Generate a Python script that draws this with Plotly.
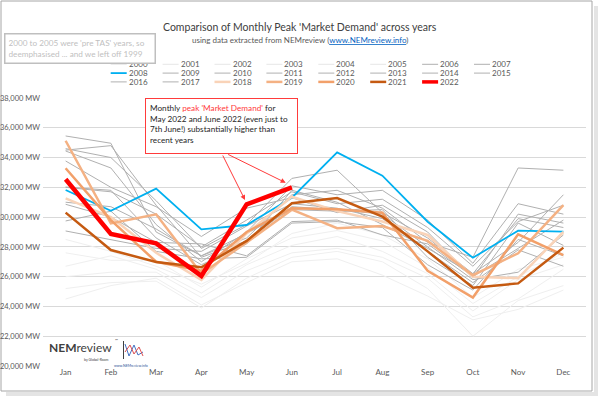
import plotly.graph_objects as go

months = ["Jan", "Feb", "Mar", "Apr", "May", "Jun", "Jul", "Aug", "Sep", "Oct", "Nov", "Dec"]
y_ticks = [20000, 22000, 24000, 26000, 28000, 30000, 32000, 34000, 36000, 38000]
y_tick_text = ["20,000 MW", "22,000 MW", "24,000 MW", "26,000 MW", "28,000 MW",
               "30,000 MW", "32,000 MW", "34,000 MW", "36,000 MW", "38,000 MW"]

y2000 = [24500, 25400, 25900, 24100, 25600, 27000, 27200, 26100, 24700, 23100, 23800, 25100]
y2001 = [25200, 25600, 25700, 23900, 25900, 27300, 27700, 27000, 25200, 22000, 24400, 25400]
y2002 = [26000, 26300, 26300, 24600, 26400, 27600, 27900, 27300, 25900, 23300, 24500, 26500]
y2003 = [26700, 27400, 26500, 24900, 26800, 28100, 28700, 27700, 26200, 23700, 25800, 26800]
y2004 = [27600, 27100, 27100, 25300, 27200, 28600, 29100, 28400, 26600, 24200, 26000, 27600]
y2005 = [28500, 27700, 26700, 25500, 26900, 28900, 29600, 28800, 27200, 24600, 26500, 27300]
y2006 = [35450, 34960, 29000, 27400, 28600, 31500, 31800, 30600, 28300, 27300, 33300, 33150]
y2007 = [34600, 34000, 31100, 27900, 29500, 32600, 33150, 30300, 28600, 26200, 28300, 31500]
y2008 = [31820, 30430, 31910, 29180, 29470, 31300, 34350, 32780, 29690, 27270, 29090, 29020]
y2009 = [34440, 33300, 29500, 27000, 29000, 32100, 31500, 31800, 29800, 26900, 30900, 30200]
y2010 = [33770, 32000, 30700, 28700, 30600, 31300, 30300, 30800, 29000, 25900, 30200, 29600]
y2011 = [32020, 31800, 28600, 26800, 28200, 31800, 31000, 29500, 27900, 26200, 29900, 29300]
y2012 = [31000, 30700, 29200, 27400, 28900, 30500, 30400, 30500, 27300, 25400, 29600, 28100]
y2013 = [30860, 30000, 28300, 28200, 27400, 29700, 29800, 28800, 28200, 26000, 27900, 29800]
y2014 = [29740, 30400, 27700, 27200, 27300, 29600, 29700, 29300, 26800, 25100, 28500, 27400]
y2015 = [29070, 28500, 27900, 27700, 29400, 30900, 30600, 29900, 27700, 25600, 27800, 26700]
y2016 = [32000, 31700, 30200, 28000, 29800, 31700, 30900, 31200, 29300, 26700, 29700, 30800]
y2017 = [34500, 34800, 30800, 27300, 28400, 30700, 30500, 30200, 28000, 25800, 26300, 28800]
y2018 = [31260, 30000, 27600, 25780, 28900, 31370, 30400, 29700, 28800, 26000, 25900, 29000]
y2019 = [35130, 29580, 30190, 26200, 28300, 30500, 29250, 29400, 28400, 26100, 27570, 30810]
y2020 = [33280, 29800, 27000, 26400, 29000, 30600, 30520, 30300, 26400, 24600, 28840, 27450]
y2021 = [30300, 27790, 26985, 26630, 28400, 30930, 31280, 30030, 27700, 25260, 25550, 27950]
y2022 = [32540, 28870, 28240, 26050, 30860, 32000]

years = list(range(2000, 2023))
series = [y2000, y2001, y2002, y2003, y2004, y2005, y2006, y2007, y2008, y2009, y2010,
          y2011, y2012, y2013, y2014, y2015, y2016, y2017, y2018, y2019, y2020, y2021, y2022]


def style(yr):
    if yr <= 2005:
        return "#EFEFEF", 1
    if yr == 2008:
        return "#00B0F0", 1.8
    if yr <= 2017:
        return "#B0B0B0", 1
    return {2018: ("#F9D3B8", 2.5), 2019: ("#F4B183", 2.5), 2020: ("#F2A06A", 2.5),
            2021: ("#C55A11", 2.5), 2022: ("#FF0000", 4.5)}[yr]


def PX(px):
    return (px - 43) / 543


def PY(py):
    return (366 - py) / 268


fig = go.Figure()
order = [y for y in years if y != 2008]
order.insert(order.index(2018), 2008)
for yr in order:
    vals = series[years.index(yr)]
    c, w = style(yr)
    fig.add_trace(go.Scatter(x=months[:len(vals)], y=vals, mode="lines", name=str(yr),
                             line=dict(color=c, width=w), showlegend=False,
                             hoverinfo="x+y+name"))

shapes = []
annotations = []
FONT = "Lato, 'Open Sans', sans-serif"

# custom legend
for i, yr in enumerate(years):
    r, cidx = divmod(i, 8)
    lx = 127.7 + 51.9 * cidx
    ly = 64.3 + 8.8 * r
    c, w = style(yr)
    if yr <= 2005:
        c = "#E6E6E6"
    shapes.append(dict(type="line", xref="paper", yref="paper", x0=PX(lx - 17), x1=PX(lx - 1),
                       y0=PY(ly), y1=PY(ly), line=dict(color=c, width=min(w, 3.5))))
    annotations.append(dict(xref="paper", yref="paper", x=PX(lx - 1), y=PY(ly), text=str(yr),
                            showarrow=False, xanchor="left", yanchor="middle",
                            font=dict(family=FONT, size=8, color="#595959")))

# title & subtitle
annotations.append(dict(xref="paper", yref="paper", x=PX(300), y=PY(27),
                        text="Comparison of Monthly Peak 'Market Demand' across years",
                        showarrow=False, xanchor="center", yanchor="middle",
                        font=dict(family=FONT, size=10.5, color="#404040")))
annotations.append(dict(xref="paper", yref="paper", x=PX(300), y=PY(40.5),
                        text="using data extracted from NEMreview (<span style='color:#0563C1;text-decoration:underline'>www.NEMreview.info</span>)",
                        showarrow=False, xanchor="center", yanchor="middle",
                        font=dict(family=FONT, size=8, color="#595959")))

# note box top-left
annotations.append(dict(xref="paper", yref="paper", x=PX(4), y=PY(33), xanchor="left", yanchor="top",
                        text="2000 to 2005 were 'pre TAS' years, so<br>deemphasised ... and we left off 1999",
                        showarrow=False, align="left", width=143, height=22, borderpad=3,
                        bordercolor="#BFBFBF", borderwidth=1.5, bgcolor="white",
                        font=dict(family=FONT, size=8.2, color="#BFBFBF")))

# red callout box
annotations.append(dict(xref="paper", yref="paper", x=PX(145), y=PY(98), xanchor="left", yanchor="top",
                        text="Monthly <span style='color:#FF3B3B'>peak 'Market Demand'</span> for<br>"
                             "May 2022 and June 2022 (even just to<br>"
                             "7th June!) substantially higher than<br>recent years",
                        showarrow=False, align="left", valign="top", width=143, height=46, borderpad=4,
                        bordercolor="#FF3B3B", borderwidth=1, bgcolor="white",
                        font=dict(family=FONT, size=8.2, color="#262626")))

# arrows
annotations.append(dict(xref="x", yref="y", x=4 - 1.6 / 45.25, y=y2022[4] + 290, text="",
                        showarrow=True, ax=-23, ay=-46, arrowcolor="#FF3B3B", arrowwidth=1,
                        arrowhead=2, arrowsize=1, standoff=0))
annotations.append(dict(xref="x", yref="y", x=5 - 6.2 / 45.25, y=y2022[5] + 310, text="",
                        showarrow=True, ax=-59, ay=-29, arrowcolor="#FF3B3B", arrowwidth=1,
                        arrowhead=2, arrowsize=1, standoff=0))

# logo
annotations.append(dict(xref="paper", yref="paper", x=PX(47), y=PY(347.5), xanchor="left", yanchor="middle",
                        text="<b>NEM</b>review", showarrow=False,
                        font=dict(family=FONT, size=12, color="#404040")))
annotations.append(dict(xref="paper", yref="paper", x=PX(113), y=PY(340), xanchor="left", yanchor="middle",
                        text="™", showarrow=False, font=dict(family=FONT, size=4, color="#404040")))
annotations.append(dict(xref="paper", yref="paper", x=PX(111), y=PY(356), xanchor="right", yanchor="top",
                        text="by Global-Roam", showarrow=False, font=dict(family=FONT, size=3.5, color="#404040")))
annotations.append(dict(xref="paper", yref="paper", x=PX(112), y=PY(361.5), xanchor="left", yanchor="top",
                        text="www.NEMreview.info", showarrow=False, font=dict(family=FONT, size=3.5, color="#2F5597")))
shapes.append(dict(type="line", xref="paper", yref="paper", x0=PX(123.5), x1=PX(123.5),
                   y0=PY(341), y1=PY(359), line=dict(color="#404040", width=1)))
shapes.append(dict(type="path", xref="paper", yref="paper",
                   path=f"M {PX(125)} {PY(344)} L {PX(129)} {PY(356)} L {PX(134)} {PY(345)} L {PX(138)} {PY(355)} L {PX(143)} {PY(352)}",
                   line=dict(color="#4472C4", width=1)))
shapes.append(dict(type="path", xref="paper", yref="paper",
                   path=f"M {PX(125)} {PY(352)} L {PX(130)} {PY(345)} L {PX(134)} {PY(354)} L {PX(139)} {PY(347)} L {PX(143)} {PY(356)}",
                   line=dict(color="#E05050", width=1)))

# outer frame with shadow
shapes.append(dict(type="rect", xref="paper", yref="paper", x0=PX(594), x1=PX(598), y0=PY(6), y1=PY(395),
                   line=dict(width=0), fillcolor="#E4E4E4", layer="below"))
shapes.append(dict(type="rect", xref="paper", yref="paper", x0=PX(6), x1=PX(598), y0=PY(392), y1=PY(396),
                   line=dict(width=0), fillcolor="#E4E4E4", layer="below"))
shapes.append(dict(type="rect", xref="paper", yref="paper", x0=PX(1), x1=PX(592), y0=PY(1), y1=PY(391),
                   line=dict(color="#A6A6A6", width=1), fillcolor="rgba(0,0,0,0)", layer="below"))

fig.update_layout(
    width=604, height=396,
    margin=dict(l=43, r=18, t=98, b=30),
    paper_bgcolor="white", plot_bgcolor="white",
    font=dict(family=FONT, color="#595959"),
    showlegend=False,
    shapes=shapes, annotations=annotations,
    xaxis=dict(type="category", categoryorder="array", categoryarray=months, range=[-0.5, 11.5],
               showgrid=False, zeroline=False, showline=False, ticks="", automargin=False,
               tickfont=dict(size=8, color="#595959"), fixedrange=True),
    yaxis=dict(range=[20000, 38000], tickvals=y_ticks, ticktext=y_tick_text,
               showgrid=True, gridcolor="#D9D9D9", gridwidth=1, zeroline=False, showline=False,
               ticks="", automargin=False, tickfont=dict(size=7.5, color="#595959"),
               ticklabelstandoff=2, fixedrange=True),
)

fig.write_html("out.html", config={"displayModeBar": False},
               post_script="document.body.style.margin='0';document.body.style.padding='0';"
                           "document.documentElement.style.overflow='hidden';")
